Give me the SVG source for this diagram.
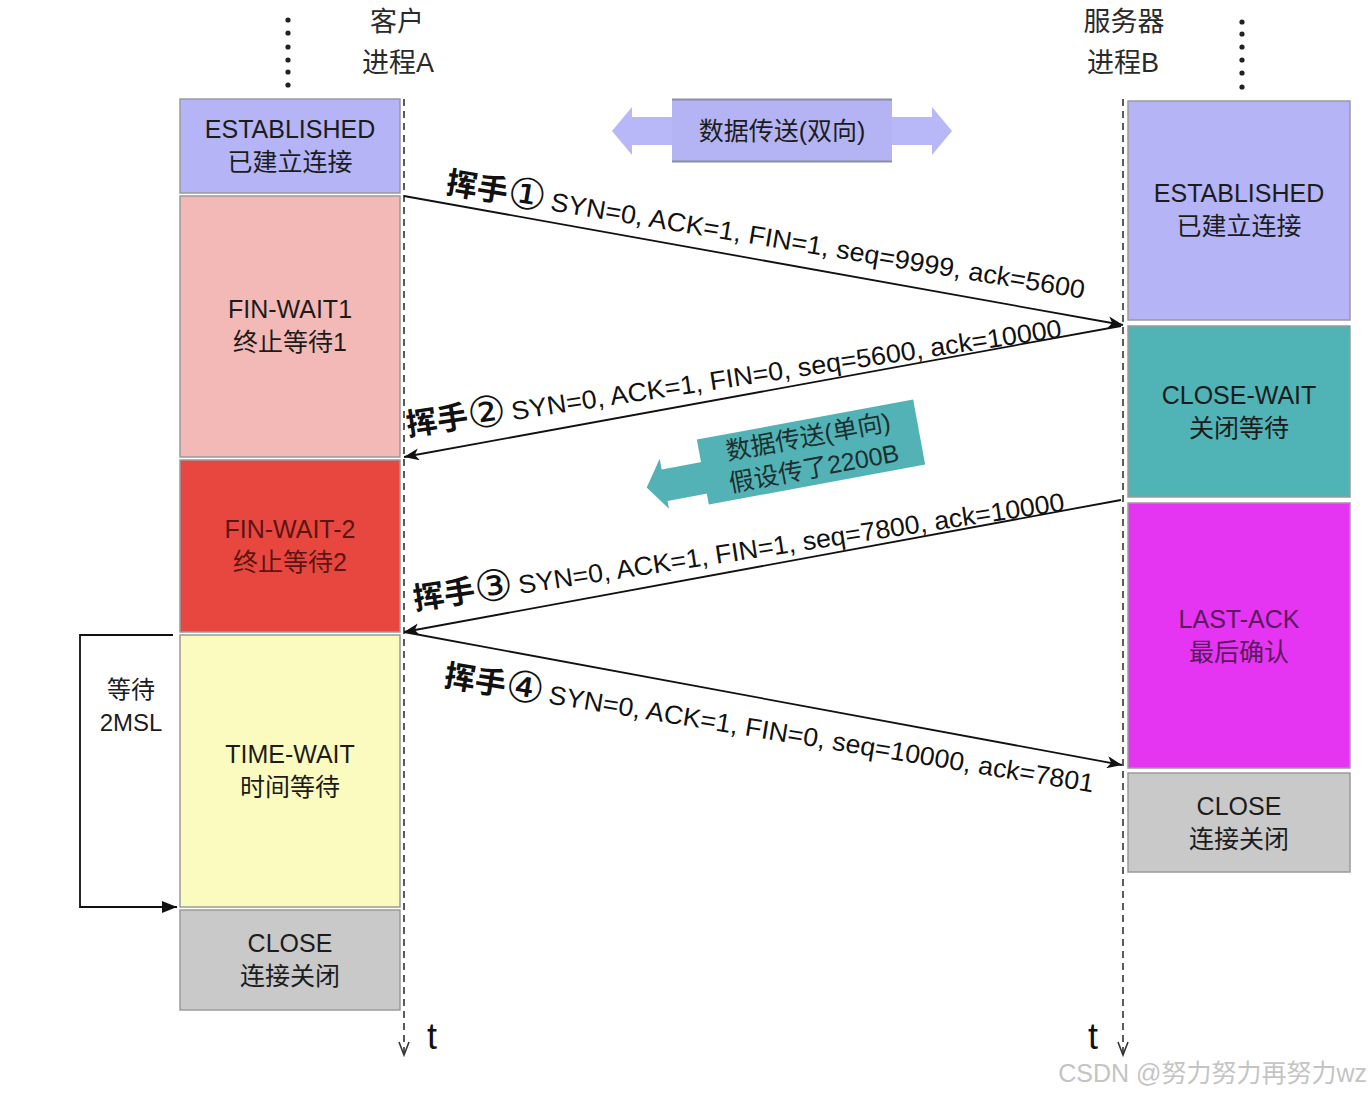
<svg xmlns="http://www.w3.org/2000/svg" width="1371" height="1095" viewBox="0 0 1371 1095">
<defs>
<style>
text{font-family:"Liberation Sans","Noto Sans CJK SC",sans-serif;fill:#1c1c1c}
.box{stroke:#9a9a9a;stroke-width:1.5}
.lbl{font-size:25px;text-anchor:middle}
.hdr{font-size:27px;text-anchor:middle;fill:#2a2a2a}
.hs{font-family:"Noto Sans CJK SC","Liberation Sans",sans-serif;font-size:31px;font-weight:bold;fill:#111}
.cd{font-family:"DejaVu Sans","Noto Sans CJK SC",sans-serif;font-size:43px;font-weight:normal}
.msg{font-size:26px;fill:#111}
.life{stroke:#333;stroke-width:1.6;stroke-dasharray:7 5;fill:none}
.conn{stroke:#111;stroke-width:1.8;fill:none}
.dot{fill:#222}
</style>
<marker id="ah" markerUnits="userSpaceOnUse" markerWidth="16" markerHeight="12" refX="15" refY="6" orient="auto"><path d="M0,0 L15,6 L0,12 L4,6 Z" fill="#111"/></marker>
<marker id="ahb" markerUnits="userSpaceOnUse" markerWidth="16" markerHeight="12" refX="15" refY="6" orient="auto"><path d="M0,0 L15,6 L0,12 Z" fill="#111"/></marker>
</defs>
<rect width="1371" height="1095" fill="#ffffff"/>

<g id="header-client">
<g class="dot"><circle cx="288" cy="20" r="2.6"/><circle cx="288" cy="33" r="2.6"/><circle cx="288" cy="47" r="2.6"/><circle cx="288" cy="60" r="2.6"/><circle cx="288" cy="72" r="2.6"/><circle cx="288" cy="85" r="2.6"/></g>
<text class="hdr" x="397" y="31">客户</text>
<text class="hdr" x="398" y="72">进程A</text>
</g>
<g id="header-server">
<g class="dot"><circle cx="1242" cy="22" r="2.6"/><circle cx="1242" cy="34" r="2.6"/><circle cx="1242" cy="47" r="2.6"/><circle cx="1242" cy="60" r="2.6"/><circle cx="1242" cy="73" r="2.6"/><circle cx="1242" cy="87" r="2.6"/></g>
<text class="hdr" x="1124" y="31">服务器</text>
<text class="hdr" x="1123" y="72">进程B</text>
</g>

<g id="client-established"><rect class="box" x="180" y="99" width="220" height="94" fill="#b4b4f6"/><text class="lbl" x="290" y="138">ESTABLISHED</text><text class="lbl" x="290" y="171">已建立连接</text></g>
<g id="client-fin-wait1"><rect class="box" x="180" y="196" width="220" height="261" fill="#f3b9b6"/><text class="lbl" x="290" y="318">FIN-WAIT1</text><text class="lbl" x="290" y="351">终止等待1</text></g>
<g id="client-fin-wait2"><rect class="box" x="180" y="460" width="220" height="172" fill="#e8473f"/><text class="lbl" x="290" y="538" style="fill:#5c1512">FIN-WAIT-2</text><text class="lbl" x="290" y="571" style="fill:#5c1512">终止等待2</text></g>
<g id="client-time-wait"><rect class="box" x="180" y="635" width="220" height="272" fill="#fbfbbf"/><text class="lbl" x="290" y="763">TIME-WAIT</text><text class="lbl" x="290" y="796">时间等待</text></g>
<g id="client-close"><rect class="box" x="180" y="910" width="220" height="100" fill="#c9c9c9"/><text class="lbl" x="290" y="952">CLOSE</text><text class="lbl" x="290" y="985">连接关闭</text></g>

<g id="server-established"><rect class="box" x="1128" y="101" width="222" height="219" fill="#b4b4f6"/><text class="lbl" x="1239" y="202">ESTABLISHED</text><text class="lbl" x="1239" y="235">已建立连接</text></g>
<g id="server-close-wait"><rect class="box" x="1128" y="326" width="222" height="171" fill="#50b3b5"/><text class="lbl" x="1239" y="404">CLOSE-WAIT</text><text class="lbl" x="1239" y="437">关闭等待</text></g>
<g id="server-last-ack"><rect class="box" x="1128" y="503" width="222" height="265" fill="#e534f2"/><text class="lbl" x="1239" y="628" style="fill:#5b1a5e">LAST-ACK</text><text class="lbl" x="1239" y="661" style="fill:#5b1a5e">最后确认</text></g>
<g id="server-close"><rect class="box" x="1128" y="773" width="222" height="99" fill="#c9c9c9"/><text class="lbl" x="1239" y="815">CLOSE</text><text class="lbl" x="1239" y="848">连接关闭</text></g>

<g id="data-bidirectional">
<polygon points="612,131 632,107 632,117 932,117 932,107 952,131 932,155 932,145 632,145 632,155" fill="#b8b8f8"/>
<rect x="672" y="99" width="220" height="63" fill="#b4b4f5"/>
<line x1="672" y1="99.5" x2="892" y2="99.5" stroke="#8c8ca8" stroke-width="2"/>
<line x1="672" y1="161.5" x2="892" y2="161.5" stroke="#8c8ca8" stroke-width="2"/>
<text x="782" y="140" style="font-size:25px;text-anchor:middle">数据传送(双向)</text>
</g>

<g id="data-unidirectional" transform="translate(811,452) rotate(-10.5)">
<polygon points="-108,-10 -150,-10 -150,-21 -168,5 -150,30 -150,22 -108,22" fill="#52b2b5"/>
<rect x="-110" y="-33" width="220" height="66" fill="#52b2b5"/>
<text x="0" y="-7" style="font-size:25px;text-anchor:middle;fill:#1c3030">数据传送(单向)</text>
<text x="0" y="25" style="font-size:25px;text-anchor:middle;fill:#1c3030">假设传了2200B</text>
</g>

<g id="wait-2msl">
<text x="131" y="698" style="font-size:24px;text-anchor:middle">等待</text>
<text x="131" y="731" style="font-size:24px;text-anchor:middle">2MSL</text>
</g>

<g id="connectors">
<path class="life" d="M404,99 V1053"/>
<path d="M399,1042 L404,1055 L409,1042" stroke="#333" stroke-width="1.6" fill="none"/>
<path class="life" d="M1123,99 V1053"/>
<path d="M1118,1042 L1123,1055 L1128,1042" stroke="#333" stroke-width="1.6" fill="none"/>
<line class="conn" x1="404" y1="196" x2="1123" y2="325" marker-end="url(#ah)"/>
<line class="conn" x1="1121" y1="326" x2="404" y2="457" marker-end="url(#ah)"/>
<line class="conn" x1="1121" y1="500" x2="404" y2="632" marker-end="url(#ah)"/>
<line class="conn" x1="404" y1="632" x2="1122" y2="765" marker-end="url(#ah)"/>
<path class="conn" d="M173,635 H80 V907 H177" marker-end="url(#ahb)"/>
</g>

<g id="label-1" transform="translate(445,193) rotate(9.4)">
<text class="hs" x="0" y="0">挥手<tspan class="cd" x="62" y="3">①</tspan></text>
<text class="msg" x="106" y="0" textLength="541" lengthAdjust="spacingAndGlyphs">SYN=0, ACK=1, FIN=1, seq=9999, ack=5600</text>
</g>
<g id="label-2" transform="translate(408,436) rotate(-8.6)">
<text class="hs" x="0" y="0">挥手<tspan class="cd" x="62" y="3">②</tspan></text>
<text class="msg" x="106" y="0" textLength="556" lengthAdjust="spacingAndGlyphs">SYN=0, ACK=1, FIN=0, seq=5600, ack=10000</text>
</g>
<g id="label-3" transform="translate(415,610) rotate(-8.7)">
<text class="hs" x="0" y="0">挥手<tspan class="cd" x="62" y="3">③</tspan></text>
<text class="msg" x="106" y="0" textLength="552" lengthAdjust="spacingAndGlyphs">SYN=0, ACK=1, FIN=1, seq=7800, ack=10000</text>
</g>
<g id="label-4" transform="translate(443,686) rotate(9.3)">
<text class="hs" x="0" y="0">挥手<tspan class="cd" x="62" y="3">④</tspan></text>
<text class="msg" x="106" y="0" textLength="552" lengthAdjust="spacingAndGlyphs">SYN=0, ACK=1, FIN=0, seq=10000, ack=7801</text>
</g>

<text x="427" y="1049" style="font-size:36px;fill:#111">t</text>
<text x="1088" y="1049" style="font-size:36px;fill:#111">t</text>
<text x="1367" y="1082" style="font-size:25px;text-anchor:end;fill:#c4c4c4">CSDN @努力努力再努力wz</text>
</svg>
